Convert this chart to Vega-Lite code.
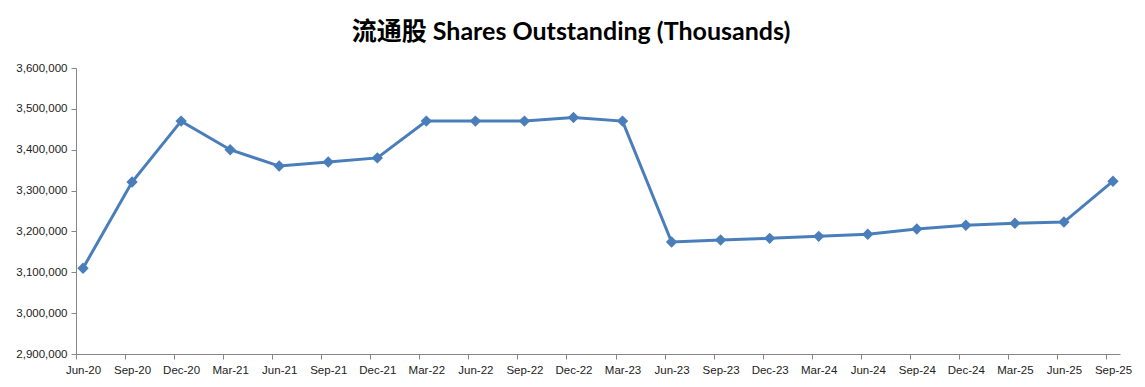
{
  "$schema": "https://vega.github.io/schema/vega-lite/v6.json",
  "width": 1044,
  "height": 286,
  "autosize": {"type": "none"},
  "padding": {"left": 76, "top": 68, "right": 25, "bottom": 33},
  "background": "white",
  "title": {
    "text": "流通股 Shares Outstanding (Thousands)",
    "font": "Lato, Noto Sans CJK SC",
    "fontSize": 25,
    "fontWeight": "bold",
    "color": "#000000",
    "anchor": "middle",
    "dx": -27,
    "offset": 17
  },
  "data": {
    "values": [
      {"q": "Jun-20", "v": 3110000},
      {"q": "Sep-20", "v": 3321000},
      {"q": "Dec-20", "v": 3470000},
      {"q": "Mar-21", "v": 3400000},
      {"q": "Jun-21", "v": 3360000},
      {"q": "Sep-21", "v": 3370000},
      {"q": "Dec-21", "v": 3380000},
      {"q": "Mar-22", "v": 3470000},
      {"q": "Jun-22", "v": 3470000},
      {"q": "Sep-22", "v": 3470000},
      {"q": "Dec-22", "v": 3479000},
      {"q": "Mar-23", "v": 3470000},
      {"q": "Jun-23", "v": 3174000},
      {"q": "Sep-23", "v": 3179000},
      {"q": "Dec-23", "v": 3183000},
      {"q": "Mar-24", "v": 3188000},
      {"q": "Jun-24", "v": 3193000},
      {"q": "Sep-24", "v": 3206000},
      {"q": "Dec-24", "v": 3215000},
      {"q": "Mar-25", "v": 3220000},
      {"q": "Jun-25", "v": 3223000},
      {"q": "Sep-25", "v": 3323000}
    ]
  },
  "mark": {
    "type": "line",
    "color": "#4A7EBB",
    "strokeWidth": 3,
    "point": {"shape": "diamond", "size": 130, "color": "#4A7EBB", "filled": true, "opacity": 1}
  },
  "encoding": {
    "x": {
      "field": "q",
      "type": "ordinal",
      "sort": null,
      "scale": {"type": "point", "padding": 0.143},
      "axis": {
        "title": null,
        "labelAngle": 0,
        "labelFont": "Liberation Sans",
        "labelFontSize": 11.5,
        "labelColor": "#222222",
        "labelPadding": 5,
        "domainColor": "#868686",
        "tickColor": "#868686",
        "tickSize": 5,
        "tickOffset": -7,
        "labelOffset": 7,
        "grid": false
      }
    },
    "y": {
      "field": "v",
      "type": "quantitative",
      "scale": {"domain": [2900000, 3600000], "nice": false, "zero": false},
      "axis": {
        "title": null,
        "values": [2900000, 3000000, 3100000, 3200000, 3300000, 3400000, 3500000, 3600000],
        "format": ",d",
        "labelFont": "Liberation Sans",
        "labelFontSize": 11.5,
        "labelColor": "#222222",
        "labelPadding": 4,
        "domainColor": "#868686",
        "tickColor": "#868686",
        "tickSize": 5,
        "grid": false
      }
    }
  },
  "config": {"view": {"stroke": null}}
}
